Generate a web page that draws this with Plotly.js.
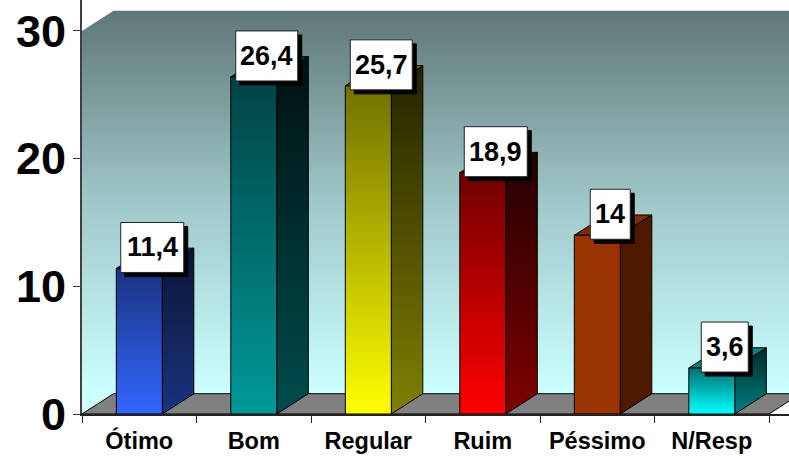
<!DOCTYPE html>
<html><head><meta charset="utf-8">
<script src="https://cdn.plot.ly/plotly-3.0.1.min.js"></script>
<style>html,body{margin:0;padding:0;background:#fff}#c{width:789px;height:456px}</style>
</head><body><div id="c"></div>
<script>
const categories = ["Ótimo","Bom","Regular","Ruim","Péssimo","N/Resp"];
const values = [11.4,26.4,25.7,18.9,14,3.6];
const valueLabels = ["11,4","26,4","25,7","18,9","14","3,6"];
const frontTop = ["#1a3380","#004343","#707000","#700000","#993300","#007070"];
const frontBottom = ["#3366ff","#009999","#ffff00","#ff0000","#993300","#00ffff"];
const sideTop = ["#0a1535","#001010","#222200","#220000","#4d1a00","#002828"];
const sideBottom = ["#1a3380","#004d4d","#808000","#800000","#4d1a00","#008080"];
const topFace = ["#1a3380","#003d3d","#666600","#660000","#802b00","#008080"];
const boxWidths = [63,62,62,63,40,47];
const yTicks = [0,10,20,30];

const pxX = 114.5, pxY = 12.783;
const dx = 31.5/pxX, dy = 20.3/pxY;
const yTop = 30+dy;
const barLo = 34.3/pxX, barHi = 80.3/pxX;

function poly(xs, ys, opts){
  const t = {type:'scatter',mode:'lines',x:xs,y:ys,fill:'toself',hoverinfo:'skip',showlegend:false,
    line:{color:opts.line||'#000',width:opts.lw===undefined?1:opts.lw}};
  if(opts.grad){
    t.fillgradient={type:'vertical',start:opts.start,stop:opts.stop,colorscale:opts.grad};
  } else t.fillcolor=opts.color;
  return t;
}
const wallScale=[[0,'#ccffff'],[0.5,'#a0c8c8'],[1,'#5f7777']];
const traces=[];
const seam=dx-0.006;
traces.push(poly([seam,6+dx,6+dx,seam,seam],[dy,dy,yTop,yTop,dy],{grad:wallScale,start:dy,stop:yTop,lw:0,line:'rgba(0,0,0,0)'}));
traces.push(poly([0,dx,dx,0,0],[0,dy,yTop,30,0],{grad:wallScale,start:dy,stop:yTop,lw:0,line:'rgba(0,0,0,0)'}));
traces.push(poly([0,6,6+dx,dx,0],[0,0,dy,dy,0],{color:'#808080'}));
values.forEach((v,i)=>{
  const a=i+barLo,b=i+barHi;
  traces.push(poly([b,b+dx,b+dx,b,b],[0,dy,v+dy,v,0],{grad:[[0,sideBottom[i]],[1,sideTop[i]]],start:0,stop:v+dy}));
  traces.push(poly([a,b,b+dx,a+dx,a],[v,v,v+dy,v+dy,v],{color:topFace[i]}));
  traces.push(poly([a,b,b,a,a],[0,0,v,v,0],{grad:[[0,frontBottom[i]],[1,frontTop[i]]],start:0,stop:v}));
});
const font={family:'"Liberation Sans",Arial,sans-serif',weight:700,color:'#000'};
const annotations=[], shapes=[];
values.forEach((v,i)=>{
  const xc=i+0.5, w=boxWidths[i]/2, cx=13, cy=21, h=25;
  const box=(ox,oy,fill,line)=>({type:'rect',xref:'x',yref:'y',xsizemode:'pixel',ysizemode:'pixel',
    xanchor:xc,yanchor:v,x0:cx-w+ox,x1:cx+w+ox,y0:cy-h+oy,y1:cy+h+oy,fillcolor:fill,line:{color:line,width:1},layer:'above'});
  shapes.push(box(4,-4,'#000','#000'));
  shapes.push(box(0,0,'#fff','#222'));
  annotations.push({x:xc,y:v,xref:'x',yref:'y',text:valueLabels[i],showarrow:false,
    font:Object.assign({},font,{size:27}),xanchor:'center',yanchor:'middle',xshift:cx,yshift:cy});
});
const layout={
  width:789,height:456,paper_bgcolor:'#fff',plot_bgcolor:'#fff',showlegend:false,
  margin:{l:82,r:0,t:0,b:41.5,pad:0},
  xaxis:{range:[0,707/pxX],tickmode:'array',tickvals:categories.map((c,i)=>i+0.5),ticktext:categories,
    ticks:'',ticklen:0,showgrid:false,zeroline:false,showline:true,linecolor:'#222',linewidth:2,
    tickfont:Object.assign({},font,{size:23.5}),ticklabelstandoff:5,tickangle:0,
    minor:{tickmode:'array',tickvals:[0,1,2,3,4,5,6],ticks:'outside',ticklen:7,tickcolor:'#222',tickwidth:1,showgrid:false}},
  yaxis:{range:[0,414.5/pxY],tickmode:'array',tickvals:yTicks,ticktext:yTicks.map(String),
    ticks:'outside',ticklen:7,tickcolor:'#404040',tickwidth:1,showgrid:false,zeroline:false,ticklabelstandoff:-2,
    showline:true,linecolor:'#404040',linewidth:2,tickfont:Object.assign({},font,{size:45})},
  annotations,shapes
};
Plotly.newPlot('c',traces,layout,{displayModeBar:false,staticPlot:true});
</script></body></html>
